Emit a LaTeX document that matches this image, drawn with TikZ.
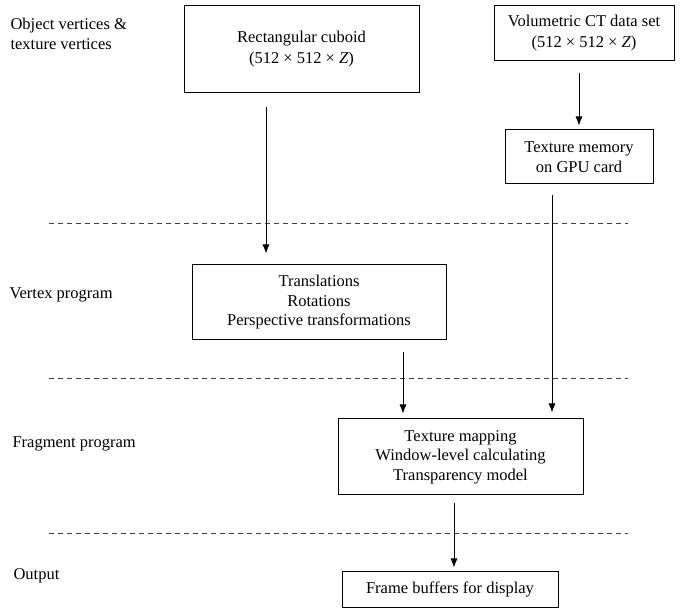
\documentclass[tikz,border=0pt]{standalone}
\usepackage{fontspec}
\setmainfont{Liberation Serif}
\usetikzlibrary{arrows.meta}

\begin{document}
\begin{tikzpicture}[x=1pt, y=-1pt,
    every node/.style={font=\fontsize{16.5}{19.5}\selectfont},
    stage/.style={draw, line width=1pt, align=center, inner sep=0pt},
    flow/.style={line width=0.8pt, -{Latex[length=9pt, width=7pt]}},
    divider/.style={line width=0.8pt, black!75, dash pattern=on 5pt off 4pt}]
  \useasboundingbox (0,0) rectangle (681,612);

  % left column labels
  \node[anchor=west, align=left] (objlbl) at (7,34) {Object vertices \&\\texture vertices};
  \node[anchor=west] (vtxlbl) at (6,295) {Vertex program};
  \node[anchor=west] (fraglbl) at (9,444) {Fragment program};
  \node[anchor=west] (outlbl) at (10,576) {Output};

  \draw[divider] (49,223) -- (628,223);
  \draw[divider] (49,378) -- (628,378);
  \draw[divider] (49,533) -- (628,533);

  % boxes
  \node[stage, minimum width=235pt, minimum height=87pt, font=\fontsize{16.5}{21}\selectfont]
    (cuboid) at (301.5,49.5) {\raisebox{-3pt}{Rectangular cuboid}\\\raisebox{-3pt}{(512 × 512 × \textit{Z})}};
  \node[stage, minimum width=180pt, minimum height=55pt, font=\fontsize{16.5}{21}\selectfont]
    (ctdata) at (584,33.5) {\raisebox{-2pt}{Volumetric CT data set}\\\raisebox{-2pt}{(512 × 512 × \textit{Z})}};
  \node[stage, minimum width=148pt, minimum height=54pt] (texmem) at (579,157)
    {Texture memory\\on GPU card};
  \node[stage, minimum width=254pt, minimum height=75pt] (vertexbox) at (319,302.5)
    {Translations\\Rotations\\Perspective transformations};
  \node[stage, minimum width=245pt, minimum height=76pt] (fragbox) at (460.5,457)
    {Texture mapping\\Window-level calculating\\Transparency model};
  \node[stage, minimum width=216pt, minimum height=35pt] (framebuf) at (450,589.5)
    {Frame buffers for display};

  % arrows
  \coordinate (a1) at ([xshift=-35.5pt]cuboid.south);
  \coordinate (a2) at ([xshift=-5pt]ctdata.south);
  \coordinate (a3) at ([xshift=-27pt]texmem.south);
  \coordinate (a4) at ([xshift=84pt]vertexbox.south);
  \coordinate (a5) at ([xshift=-6.5pt]fragbox.south);
  \draw[flow, shorten <=14pt, shorten >=11pt] (a1) -- (a1 |- vertexbox.north);
  \draw[flow, shorten <=12pt, shorten >=4pt] (a2) -- (a2 |- texmem.north);
  \draw[flow, shorten <=11pt, shorten >=6pt] (a3) -- (a3 |- fragbox.north);
  \draw[flow, shorten <=12pt, shorten >=5pt] (a4) -- (a4 |- fragbox.north);
  \draw[flow, shorten <=8pt, shorten >=4pt] (a5) -- (a5 |- framebuf.north);
\end{tikzpicture}
\end{document}
